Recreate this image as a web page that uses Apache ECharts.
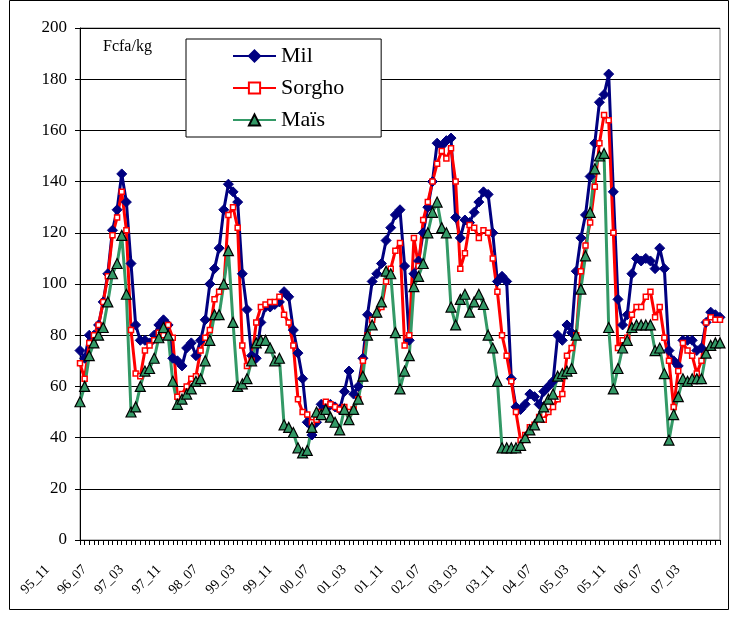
<!DOCTYPE html>
<html>
<head>
<meta charset="utf-8">
<script src="https://cdn.jsdelivr.net/npm/echarts@6/dist/echarts.min.js"></script>
<style>
  html, body { margin: 0; padding: 0; background: #fff; }
  #main { width: 730px; height: 618px; }
</style>
</head>
<body>
<div id="main"></div>
<script>
// months 95_11 .. 07_05
let months = [];
for (let k = 0; k < 139; k++) {
    let m = (10 + k) % 12 + 1;
    let y = (1995 + Math.floor((10 + k) / 12)) % 100;
    months.push(String(y).padStart(2, '0') + '_' + String(m).padStart(2, '0'));
}

let mil = [
    74, 71, 80, 80, 84, 93, 104, 121, 129, 143,
    132, 108, 84, 78, 78, 77, 80, 84, 86, 84,
    71, 70, 68, 75, 77, 72, 78, 86, 100, 106,
    114, 129, 139, 136, 132, 104, 90, 72, 71, 85,
    91, 91, 92, 93, 97, 95, 82, 73, 63, 46,
    41, 46, 53, 51, 53, 52, 51, 58, 66, 57,
    60, 71, 88, 101, 104, 108, 117, 122, 127, 129,
    107, 78, 104, 109, 120, 130, 140, 155, 154, 156,
    157, 126, 118, 125, 124, 128, 132, 136, 135, 120,
    101, 103, 101, 63, 52, 51, 53, 57, 56, 53,
    58, 60, 62, 80, 78, 84, 81, 105, 118, 127,
    142, 155, 171, 174, 182, 136, 94, 84, 88, 104,
    110, 109, 110, 109, 106, 114, 106, 74, 70, 68,
    78, 78, 78, 74, 75, 85, 89, 88, 87
];

let sorgho = [
    69, 63, 77, 80, 84, 93, 103, 119, 126, 136,
    121, 82, 65, 64, 74, 76, 78, 81, 80, 84,
    79, 56, 57, 60, 63, 64, 74, 79, 82, 94,
    97, 99, 127, 130, 122, 76, 68, 70, 85, 91,
    92, 93, 93, 95, 88, 85, 76, 55, 50, 49,
    46, 47, 50, 54, 53, 52, 51, 52, 50, 51,
    55, 70, 80, 86, 88, 91, 101, 106, 113, 116,
    76, 80, 118, 107, 125, 132, 140, 147, 152, 149,
    153, 140, 106, 112, 123, 122, 118, 121, 120, 110,
    97, 80, 72, 62, 50, 39, 41, 44, 45, 48,
    47, 50, 52, 55, 57, 72, 75, 80, 105, 115,
    124, 138, 155, 166, 164, 120, 75, 78, 79, 88,
    91, 91, 95, 97, 87, 91, 79, 70, 52, 66,
    77, 74, 72, 65, 70, 85, 87, 86, 86
];

let mais = [
    54, 60, 72, 77, 80, 83, 93, 104, 108, 119,
    96, 50, 52, 60, 66, 67, 71, 79, 83, 80,
    62, 53, 55, 57, 59, 62, 63, 70, 78, 88,
    88, 100, 113, 85, 60, 61, 63, 70, 77, 78,
    78, 75, 70, 71, 45, 44, 42, 36, 34, 35,
    44, 50, 49, 51, 48, 46, 43, 51, 47, 51,
    55, 64, 80, 84, 89, 93, 105, 104, 81, 59,
    66, 72, 99, 103, 108, 120, 128, 132, 122, 120,
    91, 84, 94, 96, 89, 93, 96, 92, 80, 75,
    62, 36, 36, 36, 36, 37, 40, 43, 45, 48,
    52, 55, 57, 64, 65, 66, 67, 80, 98, 111,
    128, 145, 150, 151, 83, 59, 67, 75, 78, 83,
    84, 84, 84, 84, 74, 75, 65, 39, 49, 56,
    63, 62, 63, 63, 63, 73, 76, 77, 77
];

let serif = '"Liberation Serif", "DejaVu Serif", serif';

let option = {
    animation: false,
    backgroundColor: '#fff',
    grid: { left: 80, right: 10, top: 28, bottom: 78, show: true, borderColor: '#808080', borderWidth: 1 },
    legend: {
        orient: 'vertical',
        left: 186,
        top: 39,
        padding: [5, 37, 5, 46],
        itemWidth: 43,
        itemHeight: 14,
        itemGap: 8,
        borderColor: '#000',
        borderWidth: 1,
        backgroundColor: '#fff',
        textStyle: { fontFamily: serif, fontSize: 22, color: '#000', lineHeight: 24 },
        data: ['Mil', 'Sorgho', 'Maïs']
    },
    graphic: [
        { type: 'text', left: 103, top: 39, style: { text: 'Fcfa/kg', font: '16px ' + serif, fill: '#000' } },
        { type: 'rect', shape: { x: 9.5, y: 0.5, width: 719, height: 609 }, style: { fill: 'none', stroke: '#000', lineWidth: 1 }, silent: true }
    ],
    xAxis: {
        type: 'category',
        data: months,
        boundaryGap: false,
        axisLine: { lineStyle: { color: '#000', width: 1 } },
        axisTick: { interval: 0, length: 5, lineStyle: { color: '#000' } },
        axisLabel: {
            interval: 7,
            rotate: 45,
            margin: -5,
            padding: [0, 46, 0, 0],
            fontFamily: serif,
            fontSize: 14,
            color: '#000'
        },
        splitLine: { show: false }
    },
    yAxis: {
        type: 'value',
        min: 0,
        max: 200,
        interval: 20,
        axisLine: { show: true, lineStyle: { color: '#000', width: 1 } },
        axisTick: { show: true, length: 5, lineStyle: { color: '#000' } },
        axisLabel: { fontFamily: serif, fontSize: 17, color: '#000', margin: 13 },
        splitLine: { lineStyle: { color: '#000', width: 1 } }
    },
    series: [
        {
            name: 'Mil', type: 'line', data: mil,
            symbol: 'diamond', symbolSize: 10, showAllSymbol: true,
            lineStyle: { color: '#000080', width: 3 },
            itemStyle: { color: '#000080', borderColor: '#000080', borderWidth: 1 }
        },
        {
            name: 'Sorgho', type: 'line', data: sorgho,
            symbol: 'rect', symbolSize: 5, showAllSymbol: true,
            lineStyle: { color: '#ff0000', width: 3 },
            itemStyle: { color: '#fff', borderColor: '#ff0000', borderWidth: 1.5 }
        },
        {
            name: 'Maïs', type: 'line', data: mais,
            symbol: 'triangle', symbolSize: 10, showAllSymbol: true,
            lineStyle: { color: '#339966', width: 3 },
            itemStyle: { color: '#339966', borderColor: '#000', borderWidth: 1.2 }
        }
    ]
};

let chart = echarts.init(document.getElementById('main'));
chart.setOption(option);
</script>
</body>
</html>
